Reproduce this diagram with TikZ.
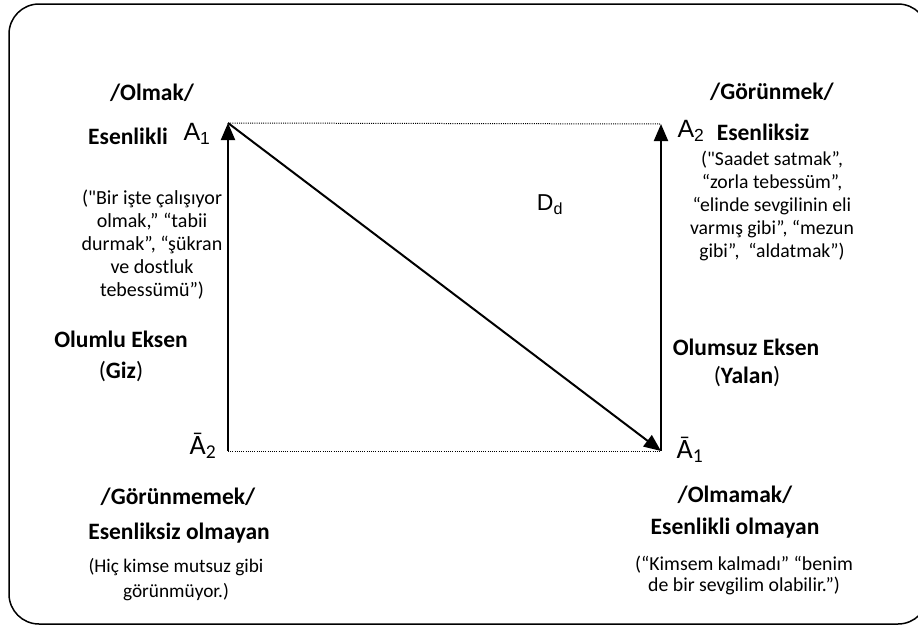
\documentclass[tikz,border=0pt]{standalone}
\usepackage{fontspec}
\setmainfont{Carlito}[Ligatures=TeXOff]
\newfontfamily\arialf{Liberation Sans}
\usetikzlibrary{arrows.meta}
\tikzset{
  lbl/.style={inner sep=0pt, align=center, font=\fontsize{18}{23}\selectfont},
  bl/.style={inner sep=0pt, align=center, font=\fontsize{23.5}{26}\selectfont\bfseries},
  sym/.style={inner sep=0pt, font=\fontsize{25}{26}\selectfont\arialf},
  symb/.style={inner sep=0pt, font=\fontsize{28}{28}\selectfont},
  axis/.style={line width=2pt, -{Triangle[length=17pt,width=14pt]}},
  dotl/.style={line width=1pt, dash pattern=on 1pt off 1.2pt},
  frame/.style={line width=1.5pt, rounded corners=30pt}
}
\begin{document}
\begin{tikzpicture}[x=1pt,y=-1pt]
\useasboundingbox (0,0) rectangle (918,635);
\draw[frame] (9,4) rectangle (928,624);
% corner points
\coordinate (TL) at (228,123);
\coordinate (BL) at (228,451);
\coordinate (TR) at (661,124);
\coordinate (BR) at (661,451);
\draw[dotl] (TL) -- (TR);
\draw[dotl] (BL) -- (BR);
% left text block (drawn before the arrows, which lie over it)
\node[lbl, font=\fontsize{20}{23}\selectfont] (lp) at (152,245) {("Bir işte çalışıyor\\olmak,” “tabii\\durmak”, “şükran\\ve dostluk\\tebessümü”)};
\draw[axis] (BL) -- (TL);
\draw[axis] (BR) -- (TR);
\draw[axis] (TL) -- (BR);
% left top
\node[bl] (olmak) at (152,93) {/Olmak/};
\node[bl] (esl) at (128,136) {Esenlikli};
\node[sym] (a1) at (197,134) {A\textsubscript{1}};
\node[bl] (ole) at (121,339) {Olumlu Eksen};
\node[bl, font=\fontsize{23.5}{26}\selectfont] (giz) at (121,372) {(\textbf{Giz})};
% left bottom
\node[symb] (a2b) at (203,446) {Ā\textsubscript{2}};
\node[bl] (gorm) at (178,497) {/Görünmemek/};
\node[bl] (eso) at (179,533) {Esenliksiz olmayan};
\node[lbl, font=\fontsize{19.3}{25}\selectfont] (hic) at (176,580) {(Hiç kimse mutsuz gibi\\görünmüyor.)};
% right top
\node[bl] (gor) at (772,92) {/Görünmek/};
\node[sym] (a2) at (691,131) {A\textsubscript{2}};
\node[bl] (esz) at (763,132) {Esenliksiz};
\node[lbl, font=\fontsize{19.7}{23}\selectfont] (rp) at (772,206) {("Saadet satmak”,\\“zorla tebessüm”,\\“elinde sevgilinin eli\\varmış gibi”, “mezun\\gibi”,~ “aldatmak”)};
\node[sym, font=\fontsize{23}{24}\selectfont\arialf] (dd) at (550,205) {D\textsubscript{d}};
\node[bl] (ose) at (746,347) {Olumsuz Eksen};
\node[bl, font=\fontsize{23.5}{26}\selectfont] (yal) at (747,377) {(\textbf{Yalan})};
% right bottom
\node[symb] (a1b) at (690,450) {Ā\textsubscript{1}};
\node[bl] (olmm) at (735,495) {/Olmamak/};
\node[bl] (eslo) at (735,528) {Esenlikli olmayan};
\node[lbl, font=\fontsize{19.8}{21}\selectfont] (kim) at (744,575) {(“Kimsem kalmadı” “benim\\de bir sevgilim olabilir.”)};
\end{tikzpicture}
\end{document}
